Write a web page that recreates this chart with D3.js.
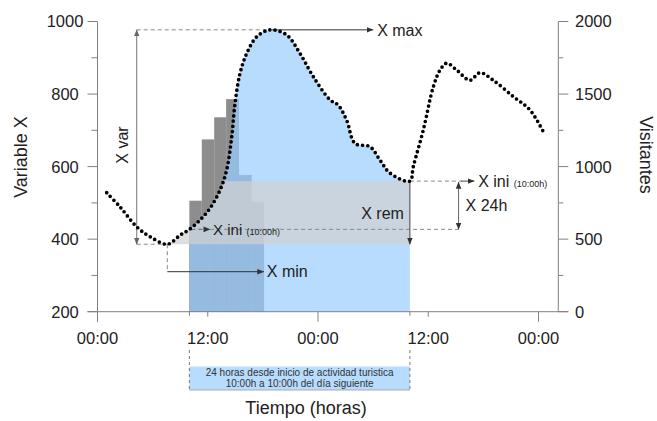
<!DOCTYPE html>
<html>
<head>
<meta charset="utf-8">
<script src="https://cdn.jsdelivr.net/npm/d3@7"></script>
<style>
body { margin: 0; background: #fff; }
text { font-family: "Liberation Sans", Arial, Helvetica, sans-serif; fill: #222; }
</style>
</head>
<body>
<svg id="chart" width="657" height="421"></svg>
<script>
// curve of Variable X (hours from first 00:00)
var hours = [1.0, 2.45, 4.27, 5.71, 7.6, 8.98, 10, 11.16, 12.24, 13.33, 14.06, 14.61, 14.97, 15.51, 16.24, 17.33, 18.78,
  20.59, 22.04, 23.49, 25.31, 26.18, 27.12, 28.03, 29.66, 30.75, 31.84, 34, 34.37, 35.46, 36.55, 37.28, 38.01,
  39.1, 40.54, 41.63, 43.08, 45.26, 47.08, 48.71];
var xValues = [528, 489, 434, 407, 386, 411, 427, 453, 485, 535, 591, 682, 774, 857, 912, 958, 977,
  963, 912, 848, 784, 770, 728, 664, 655, 618, 582, 560, 600, 701, 820, 866, 885,
  866, 838, 859, 838, 793, 756, 687];

// staircase columns
var stepEdges = [10, 11.35, 12.7, 14.0, 15.35, 16.75, 18.1];
var stepValues = [506, 675, 736, 786, 577, 503];

var leftTicks = [200, 400, 600, 800, 1000];
var leftMinor = [300, 500, 700, 900];
var rightTicks = [0, 500, 1000, 1500, 2000];
var rightMinor = [250, 750, 1250, 1750];
var timeTicks = [0, 12, 24, 36, 48];
var timeLabels = ["00:00", "12:00", "00:00", "12:00", "00:00"];

var windowStart = 10, windowEnd = 34;
var hMin = 7.6, hMax = 18.78;
var xMin = 386, xMax = 977, xIniStart = 427, xIniEnd = 560;
var xVarHour = 4.27, x24Hour = 39.3;

var svg = d3.select("#chart");

var x = d3.scaleLinear().domain([0, 48]).range([97.5, 538.5]);
var y = d3.scaleLinear().domain([200, 1000]).range([311.7, 21.5]);
var y2 = d3.scaleLinear().domain([0, 2000]).range([311.7, 21.5]);
var rightX = 558.3;

var defs = svg.append("defs");
function marker(id, color) {
  defs.append("marker")
    .attr("id", id)
    .attr("viewBox", "0 0 8 8")
    .attr("refX", 7.5).attr("refY", 4)
    .attr("markerWidth", 7).attr("markerHeight", 7)
    .attr("markerUnits", "userSpaceOnUse")
    .attr("orient", "auto-start-reverse")
    .append("path")
    .attr("d", "M0,0.8 L8,4 L0,7.2 Z")
    .attr("fill", color);
}
marker("arDark", "#333");
marker("arGray", "#666");

var curve = d3.curveCatmullRom.alpha(0.5);
var pts = hours.map(function(h, i) { return [h, xValues[i]]; });

var area = d3.area()
  .x(function(d) { return x(d[0]); })
  .y0(y(200))
  .y1(function(d) { return y(d[1]); })
  .curve(curve);

defs.append("clipPath").attr("id", "under")
  .append("path").attr("d", area(pts));

// light blue: area under the curve over the 24h window
svg.append("rect")
  .attr("x", x(windowStart)).attr("width", x(windowEnd) - x(windowStart))
  .attr("y", y(1000)).attr("height", y(200) - y(1000))
  .attr("fill", "#b8dcfd")
  .attr("clip-path", "url(#under)");

// gray staircase
var steps = stepValues.map(function(v, i) { return { x0: stepEdges[i], x1: stepEdges[i + 1], v: v }; });

svg.append("g").selectAll("rect").data(steps.slice(0, 4)).enter().append("rect")
  .attr("x", function(d) { return x(d.x0); })
  .attr("width", function(d) { return x(d.x1) - x(d.x0); })
  .attr("y", function(d) { return y(d.v); })
  .attr("height", function(d) { return y(200) - y(d.v); })
  .attr("fill", "#8d8d8d");

// medium blue: staircase below the curve
svg.append("g").attr("clip-path", "url(#under)")
  .selectAll("rect").data(steps).enter().append("rect")
  .attr("x", function(d) { return x(d.x0); })
  .attr("width", function(d) { return x(d.x1) - x(d.x0) + 0.3; })
  .attr("y", function(d) { return y(d.v); })
  .attr("height", function(d) { return y(200) - y(d.v); })
  .attr("fill", "#96bbe0");

// grey band between X min and X ini (10:00h)
svg.append("rect")
  .attr("x", x(hMin)).attr("width", x(windowEnd) - x(hMin))
  .attr("y", y(xIniEnd)).attr("height", y(xMin) - y(xIniEnd))
  .attr("fill", "rgb(208,208,208)").attr("fill-opacity", 0.7)
  .attr("clip-path", "url(#under)");

// axes
var axisColor = "#808080";
var ax = svg.append("g").attr("stroke", axisColor).attr("stroke-width", 1).attr("fill", "none");

ax.append("line").attr("x1", x(0)).attr("x2", x(0)).attr("y1", y(1000)).attr("y2", y(200) + 10);
ax.append("line").attr("x1", x(0) - 10).attr("x2", rightX + 10).attr("y1", y(200)).attr("y2", y(200));
ax.append("line").attr("x1", rightX).attr("x2", rightX).attr("y1", y2(2000)).attr("y2", y2(0));

ax.selectAll(".lt").data(leftTicks).enter().append("line")
  .attr("x1", x(0) - 10).attr("x2", x(0))
  .attr("y1", function(d) { return y(d); }).attr("y2", function(d) { return y(d); });
ax.selectAll(".lm").data(leftMinor).enter().append("line")
  .attr("x1", x(0) - 6).attr("x2", x(0))
  .attr("y1", function(d) { return y(d); }).attr("y2", function(d) { return y(d); });
ax.selectAll(".rt").data(rightTicks).enter().append("line")
  .attr("x1", rightX).attr("x2", rightX + 10)
  .attr("y1", function(d) { return y2(d); }).attr("y2", function(d) { return y2(d); });
ax.selectAll(".rm").data(rightMinor).enter().append("line")
  .attr("x1", rightX).attr("x2", rightX + 5)
  .attr("y1", function(d) { return y2(d); }).attr("y2", function(d) { return y2(d); });
ax.selectAll(".bt").data(timeTicks).enter().append("line")
  .attr("x1", function(d) { return x(d); }).attr("x2", function(d) { return x(d); })
  .attr("y1", y(200))
  .attr("y2", function(d) { return y(200) + (d % 24 == 0 ? 10 : 5); });
ax.selectAll(".wt").data([windowStart, windowEnd]).enter().append("line")
  .attr("x1", function(d) { return x(d); }).attr("x2", function(d) { return x(d); })
  .attr("y1", y(200)).attr("y2", y(200) + 4);

svg.append("g").selectAll("text").data(leftTicks).enter().append("text")
  .attr("x", 65).attr("y", function(d) { return y(d); })
  .attr("dy", "0.36em").attr("text-anchor", "middle")
  .style("font-size", "16.5px")
  .text(function(d) { return d; });

svg.append("g").selectAll("text").data(rightTicks).enter().append("text")
  .attr("x", 575).attr("y", function(d) { return y2(d); })
  .attr("dy", "0.36em")
  .style("font-size", "16.5px")
  .text(function(d) { return d; });

svg.append("g").selectAll("text").data(timeTicks).enter().append("text")
  .attr("x", function(d) { return x(d); }).attr("y", 343.5)
  .attr("text-anchor", "middle")
  .style("font-size", "16.5px")
  .text(function(d, i) { return timeLabels[i]; });

svg.append("text")
  .attr("transform", "translate(27,157) rotate(-90)")
  .attr("text-anchor", "middle")
  .style("font-size", "18px")
  .text("Variable X");

svg.append("text")
  .attr("transform", "translate(640,155) rotate(90)")
  .attr("text-anchor", "middle")
  .style("font-size", "18px")
  .text("Visitantes");

svg.append("text")
  .attr("x", 306).attr("y", 414)
  .attr("text-anchor", "middle")
  .style("font-size", "18px")
  .text("Tiempo (horas)");

// 24h window box under the axis
var box = svg.append("g");
box.append("rect")
  .attr("x", x(windowStart)).attr("width", x(windowEnd) - x(windowStart))
  .attr("y", 366.5).attr("height", 23.5)
  .attr("fill", "#b8dcfd");
box.append("line")
  .attr("x1", x(windowStart)).attr("x2", x(windowEnd)).attr("y1", 390).attr("y2", 390)
  .attr("stroke", "#999").attr("stroke-width", 0.8);
box.selectAll(".d").data([windowStart, windowEnd]).enter().append("line")
  .attr("x1", function(d) { return x(d); }).attr("x2", function(d) { return x(d); })
  .attr("y1", 350).attr("y2", 390)
  .attr("stroke", "#777").attr("stroke-dasharray", "3,3");
box.selectAll("text").data(["24 horas desde inicio de actividad turistica", "10:00h a 10:00h del día siguiente"])
  .enter().append("text")
  .attr("x", (x(windowStart) + x(windowEnd)) / 2)
  .attr("y", function(d, i) { return 376 + i * 10.8; })
  .attr("text-anchor", "middle")
  .style("font-size", "10px")
  .style("fill", "#333")
  .text(function(d) { return d; });

// annotations
var ann = svg.append("g").attr("fill", "none");
function seg(x1, y1, x2, y2, color, dashed, mStart, mEnd) {
  var l = ann.append("line")
    .attr("x1", x1).attr("y1", y1).attr("x2", x2).attr("y2", y2)
    .attr("stroke", color).attr("stroke-width", 1);
  if (dashed) l.attr("stroke-dasharray", "4,3");
  if (mStart) l.attr("marker-start", "url(#" + mStart + ")");
  if (mEnd) l.attr("marker-end", "url(#" + mEnd + ")");
  return l;
}

// X var
seg(x(xVarHour), y(xMax), x(xVarHour), y(xMin), "#777", false, "arGray", "arGray");
// X max
seg(x(xVarHour), y(xMax), x(hMax), y(xMax), "#888", true);
seg(x(hMax) + 2, y(xMax), x(30), y(xMax), "#333", false, null, "arDark");
// X min
seg(x(xVarHour), y(xMin), x(hMin), y(xMin), "#888", true);
seg(x(hMin), y(xMin), x(hMin), 271.7, "#888", true);
seg(x(hMin), 271.7, x(stepEdges[6]), 271.7, "#333", false, null, "arDark");
// X ini at 10:00h, start of the window
seg(x(windowStart) + 2, y(xIniStart), x(12.25), y(xIniStart), "#666", true, null, "arDark");
seg(x(12.25), y(xIniStart), x(x24Hour), y(xIniStart), "#888", true);
// X ini at 10:00h, end of the window
seg(x(windowEnd), y(xIniEnd), x(39.5), y(xIniEnd), "#888", true);
seg(x(39.5), y(xIniEnd), x(41.0), y(xIniEnd), "#444", false, null, "arDark");
// X 24h
seg(x(x24Hour), y(xIniEnd) + 1, x(x24Hour), y(xIniStart), "#666", false, "arDark", "arDark");
// X rem
seg(x(windowEnd), y(xIniEnd), x(windowEnd), y(xMin), "#444", false, null, "arDark");

// dotted curve
svg.append("path")
  .datum(pts)
  .attr("d", d3.line()
    .x(function(d) { return x(d[0]); })
    .y(function(d) { return y(d[1]); })
    .curve(curve))
  .attr("fill", "none")
  .attr("stroke", "#000")
  .attr("stroke-width", 3.7)
  .attr("stroke-linecap", "round")
  .attr("stroke-dasharray", "0,5.2");

// annotation labels
var lab = svg.append("g").style("font-size", "16px");
lab.append("text").attr("x", x(30) + 4).attr("y", y(xMax)).attr("dy", "0.36em").text("X max");
lab.append("text").attr("x", x(stepEdges[6]) + 3).attr("y", 271.7).attr("dy", "0.36em").text("X min");
lab.append("text")
  .attr("transform", "translate(" + (x(xVarHour) - 9) + "," + ((y(xMax) + y(xMin)) / 2 + 8) + ") rotate(-90)")
  .attr("text-anchor", "middle").text("X var");
lab.append("text").attr("x", x(windowEnd) - 6).attr("y", 213.5).attr("dy", "0.36em")
  .attr("text-anchor", "end").text("X rem");
lab.append("text").attr("x", x(x24Hour) + 7).attr("y", (y(xIniEnd) + y(xIniStart)) / 2)
  .attr("dy", "0.36em").text("X 24h");

var ini1 = lab.append("text").attr("x", x(12.25) + 3).attr("y", y(xIniStart) + 5.5);
ini1.append("tspan").style("font-size", "15px").text("X ini ");
ini1.append("tspan").style("font-size", "9px").text("(10:00h)");

var ini2 = lab.append("text").attr("x", x(41.0) + 4).attr("y", y(xIniEnd) + 5.5);
ini2.append("tspan").text("X ini ");
ini2.append("tspan").style("font-size", "9px").text("(10:00h)");
</script>
</body>
</html>
